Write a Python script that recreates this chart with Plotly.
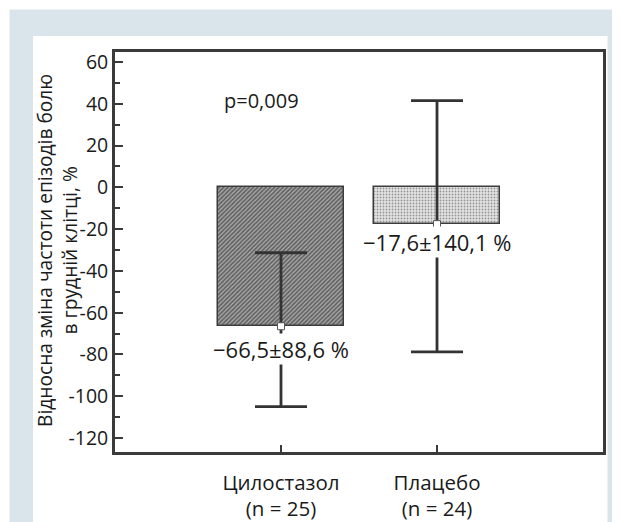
import plotly.graph_objects as go

# ---- data ----
categories = ["Цилостазол<br>(n = 25)", "Плацебо<br>(n = 24)"]
means = [-66.5, -17.6]
ci_upper = [-31.3, 41.5]
ci_lower = [-105.0, -78.8]
value_labels = ["−66,5±88,6 %", "−17,6±140,1 %"]
y_ticks = [-120, -100, -80, -60, -40, -20, 0, 20, 40, 60]
y_title = "Відносна зміна частоти епізодів болю<br>в грудній клітці, %"
p_text = "p=0,009"

W, H = 620, 522
OFF = 8  # page offset of the figure (body margin)
PL, PT, PW, PH = 115, 52, 488, 400  # plot area in page pixels
L, T = PL - OFF, PT - OFF
R, B = W - L - PW, H - T - PH

def px(x):  # page pixel -> paper x
    return (x - PL) / PW

def py(y):  # page pixel -> paper y
    return (PT + PH - y) / PH

FONT = "Open Sans"
TXT = "#1a1a1a"
AX = "#3a3a3a"

xs = [0, 1]
err_plus = [u - m for u, m in zip(ci_upper, means)]
err_minus = [m - l for m, l in zip(means, ci_lower)]

fig = go.Figure()
fig.add_trace(go.Bar(
    x=xs, y=means, width=0.81,
    marker=dict(
        color=["#626262", "#e4e4e4"],
        line=dict(color="#3c3c3c", width=1.5),
        pattern=dict(shape=["/", "."], fgcolor=["#474747", "#b4b4b4"],
                     bgcolor=["#686868", "#e8e8e8"], size=[3, 3], solidity=[0.4, 0.3]),
    ),
    error_y=dict(type="data", symmetric=False, array=err_plus, arrayminus=err_minus,
                 color="#333333", thickness=2.8, width=26),
    showlegend=False, hoverinfo="skip",
))
fig.add_trace(go.Scatter(
    x=xs, y=means, mode="markers",
    marker=dict(symbol="square", size=7, color="white", line=dict(color="#555555", width=1)),
    showlegend=False, hoverinfo="skip",
))

shapes = [
    dict(type="rect", xref="paper", yref="paper", x0=px(9.5), x1=px(640), y0=py(9.5), y1=py(560),
         fillcolor="#dae5eb", line=dict(width=0), layer="below"),
    dict(type="rect", xref="paper", yref="paper", x0=px(33), x1=px(607.5), y0=py(36), y1=py(560),
         fillcolor="white", line=dict(width=0), layer="below"),
]

annotations = [
    dict(text=y_title, xref="paper", yref="paper", x=px(57), y=py(251), textangle=-90,
         showarrow=False, xanchor="center", yanchor="middle",
         font=dict(family=FONT, size=19.2, color=TXT)),
    dict(text=p_text, xref="paper", yref="paper", x=px(222), y=py(100), showarrow=False,
         xanchor="left", yanchor="middle", font=dict(family=FONT, size=20, color=TXT)),
]
label_y = [-77.4, -26.2]
for x, lab, ly in zip(xs, value_labels, label_y):
    annotations.append(dict(text=lab, x=x, y=ly, xref="x", yref="y", showarrow=False,
                            xanchor="center", yanchor="middle", bgcolor="white", borderpad=0,
                            font=dict(family=FONT, size=22, color=TXT)))

fig.update_layout(
    width=W, height=H,
    margin=dict(l=L, r=R, t=T, b=B, autoexpand=False),
    paper_bgcolor="white", plot_bgcolor="rgba(0,0,0,0)",
    shapes=shapes, annotations=annotations,
    font=dict(family=FONT, color=TXT),
    bargap=0,
)
fig.update_xaxes(
    range=[-1.064, 2.064], tickvals=xs, ticktext=categories,
    ticks="inside", ticklen=7, tickwidth=2, tickcolor=AX,
    showline=True, linecolor=AX, linewidth=2.8, mirror=True,
    showgrid=False, zeroline=False, ticklabelstandoff=10,
    tickfont=dict(family=FONT, size=20.5, color=TXT),
)
fig.update_yaxes(
    range=[-126.7, 64.8], tickvals=y_ticks, ticktext=[str(v) for v in y_ticks],
    ticks="inside", ticklen=8, tickwidth=2, tickcolor=AX,
    minor=dict(dtick=10, tick0=0, ticks="inside", ticklen=5, tickwidth=1.5, tickcolor=AX),
    showline=True, linecolor=AX, linewidth=2.8, mirror=True,
    showgrid=False, zeroline=False,
    tickfont=dict(family=FONT, size=19.5, color=TXT),
)

fig.write_html("out.html")
